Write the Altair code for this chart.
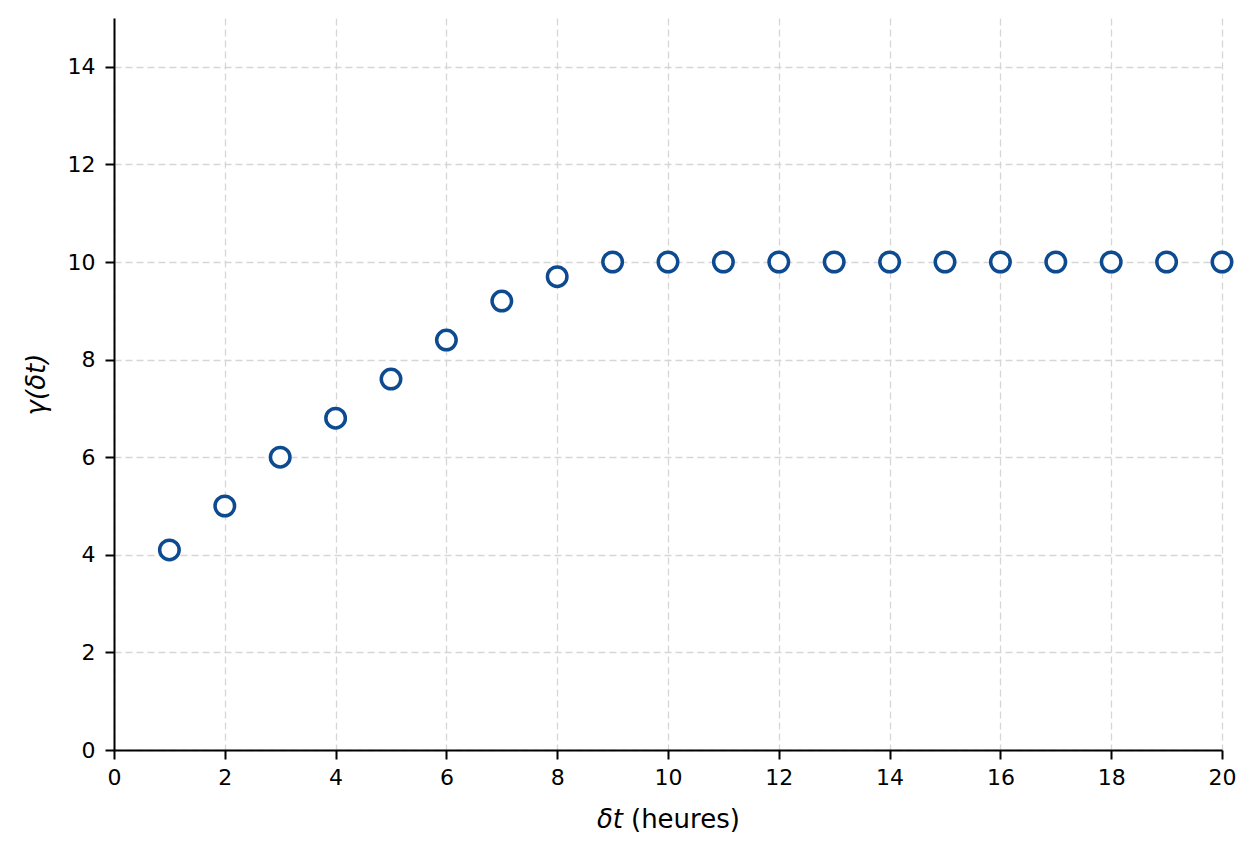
import altair as alt
import pandas as pd

# semivariogram values
lags = list(range(1, 21))
gamma = [4.1, 5.0, 6.0, 6.8, 7.6, 8.4, 9.2, 9.7] + [10.0] * 12
x_ticks = list(range(0, 21, 2))
y_ticks = list(range(0, 15, 2))

df = pd.DataFrame({"lag": lags, "gamma": gamma})

axis_style = dict(
    domainColor="black", domainWidth=2, tickColor="black", tickWidth=2,
    tickSize=9, labelFont="DejaVu Sans", labelFontSize=22, labelColor="black",
    titleFont="DejaVu Sans", titleFontSize=26, titleFontWeight="normal", titleColor="black",
    gridColor="#d6d6d6", gridDash=[7, 4], gridWidth=1.3, labelFlush=False,
)

points = alt.Chart(df).mark_point(
    shape="circle", filled=False, fill="white", fillOpacity=1,
    stroke="#0d4a8f", strokeWidth=3.5, size=380, opacity=1, clip=False,
).encode(
    x=alt.X("lag:Q", scale=alt.Scale(domain=[0, 20], nice=False),
            axis=alt.Axis(values=x_ticks, title=None, labelPadding=8, **axis_style)),
    y=alt.Y("gamma:Q", scale=alt.Scale(domain=[0, 15], nice=False),
            axis=alt.Axis(values=y_ticks, title="γ(δt)", titleFontStyle="italic",
                          labelPadding=10, titlePadding=18, **axis_style)),
)

# x-axis title in two pieces: italic "δt" followed by upright "(heures)"
title_style = dict(font="DejaVu Sans", fontSize=26, color="black", baseline="middle")
t_math = alt.Chart(pd.DataFrame({"t": ["δt"]})).mark_text(
    align="right", fontStyle="italic", **title_style
).encode(text="t:N", x=alt.value(509), y=alt.value(802))
t_unit = alt.Chart(pd.DataFrame({"t": ["(heures)"]})).mark_text(
    align="left", **title_style
).encode(text="t:N", x=alt.value(517), y=alt.value(802))

chart = alt.layer(points, t_math, t_unit).properties(
    width=1108, height=732,
    background="white",
    autosize=alt.AutoSizeParams(type="none"),
    padding={"left": 106, "top": 10, "right": 27, "bottom": 88},
).configure_view(stroke="transparent", strokeWidth=0)

chart.save("out.html", embed_options={"renderer": "svg", "actions": False})
